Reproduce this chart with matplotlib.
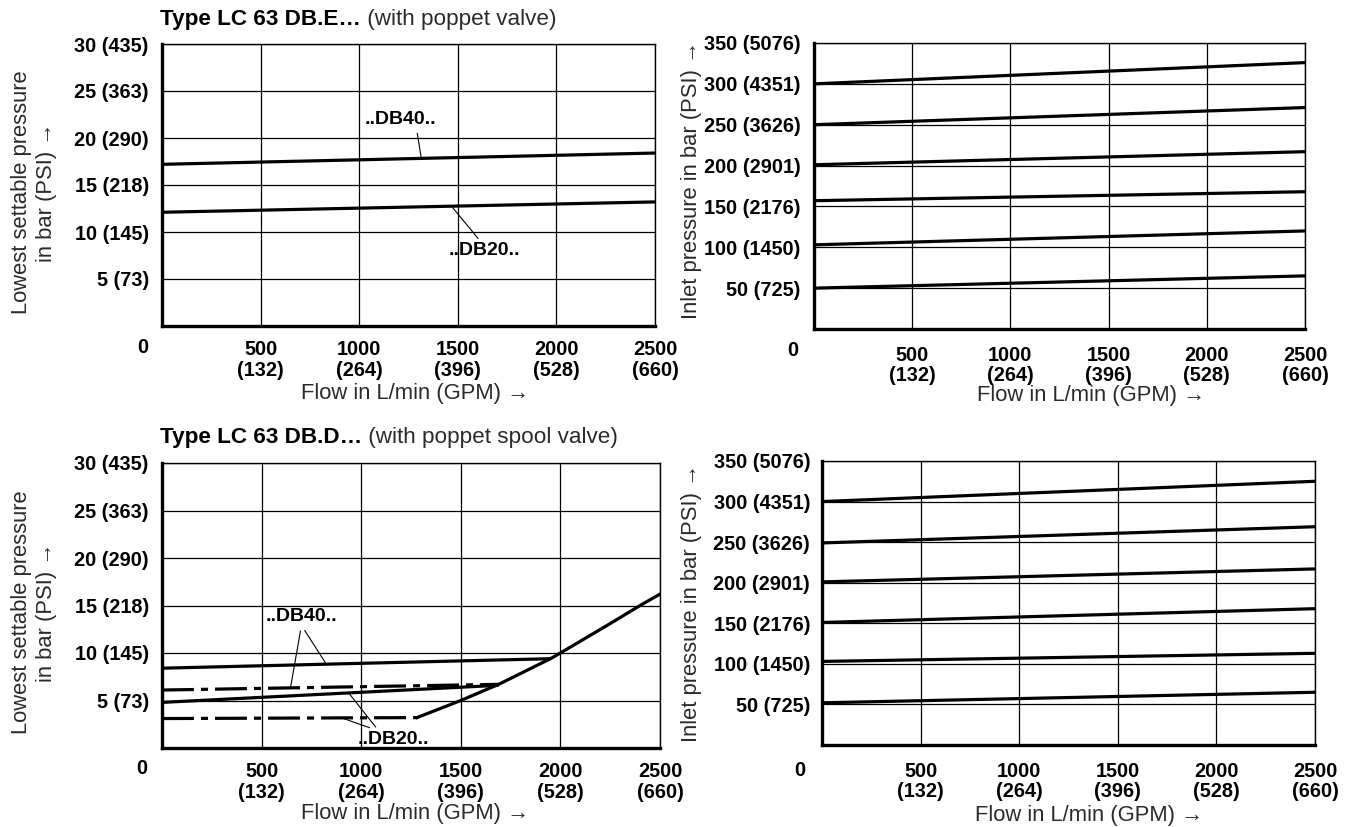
import matplotlib
matplotlib.use("Agg")
import matplotlib.pyplot as plt
import numpy as np
from matplotlib import font_manager as fm

# ---------------- data ----------------
flow_ticks = [500, 1000, 1500, 2000, 2500]
flow_tick_labels = ["500\n(132)", "1000\n(264)", "1500\n(396)", "2000\n(528)", "2500\n(660)"]

low_ticks = [5, 10, 15, 20, 25, 30]
low_tick_labels = ["5 (73)", "10 (145)", "15 (218)", "20 (290)", "25 (363)", "30 (435)"]

inlet_ticks = [50, 100, 150, 200, 250, 300, 350]
inlet_tick_labels = ["50 (725)", "100 (1450)", "150 (2176)", "200 (2901)",
                     "250 (3626)", "300 (4351)", "350 (5076)"]

# Type LC 63 DB.E (poppet valve) - lowest settable pressure
e_flow = [0, 2500]
e_db40 = [17.2, 18.4]
e_db20 = [12.1, 13.2]

# Type LC 63 DB.E - inlet pressure curves
e_inlet_flow = [0, 2500]
e_inlet_300 = [300, 326]
e_inlet_250 = [250, 271]
e_inlet_200 = [201, 217]
e_inlet_150 = [157, 168]
e_inlet_100 = [103, 120]
e_inlet_50 = [50, 65]

# Type LC 63 DB.D (poppet spool valve) - lowest settable pressure
d_db40_solid_flow = [0, 1950]
d_db40_solid = [8.4, 9.4]
d_db40_dash_flow = [0, 1690]
d_db40_dash = [6.1, 6.7]
d_db20_solid_flow = [0, 1690]
d_db20_solid = [4.8, 6.6]
d_db20_dash_flow = [0, 1280]
d_db20_dash = [3.1, 3.2]
d_limit_flow = [1280, 1500, 1690, 1950, 2000, 2250, 2400, 2500]
d_limit = [3.2, 5.0, 6.7, 9.4, 10.0, 13.1, 15.0, 16.2]

# Type LC 63 DB.D - inlet pressure curves
d_inlet_flow = [0, 2500]
d_inlet_300 = [300, 325]
d_inlet_250 = [249, 269]
d_inlet_200 = [201, 217]
d_inlet_150 = [151, 168]
d_inlet_100 = [103, 113]
d_inlet_50 = [52, 65]

# ---------------- fonts ----------------
names = {f.name for f in fm.fontManager.ttflist}
SANS = "Liberation Sans" if "Liberation Sans" in names else "DejaVu Sans"
FAM = [SANS, "DejaVu Sans"]
plt.rcParams["font.family"] = FAM

W, H = 1359, 827
fig = plt.figure(figsize=(W / 100, H / 100), dpi=100)


def add_ax(x0, x1, y0, y1):
    return fig.add_axes([x0 / W, 1 - y1 / H, (x1 - x0) / W, (y1 - y0) / H])


def ftext(x, y, s, **kw):
    return fig.text(x / W, 1 - y / H, s, **kw)


TICK_FS = 14.3
LW = 2.3
DASHDOT = (0, (10, 2.2, 2.2, 2.2))


def style(ax, ylim, yticks, ylabels, ypad, xpad=10):
    ax.set_xlim(0, 2500)
    ax.set_ylim(*ylim)
    ax.set_xticks(flow_ticks)
    ax.set_xticklabels(flow_tick_labels, fontsize=TICK_FS, fontweight="bold",
                       linespacing=1.12)
    ax.set_yticks(yticks)
    ax.set_yticklabels(ylabels, fontsize=TICK_FS, fontweight="bold")
    ax.tick_params(axis="x", length=0, pad=xpad)
    ax.tick_params(axis="y", length=0, pad=ypad)
    ax.grid(True, color="black", lw=0.9)
    ax.set_axisbelow(True)
    for s in ("left", "bottom"):
        ax.spines[s].set_linewidth(2.4)
    for s in ("top", "right"):
        ax.spines[s].set_linewidth(1.0)


LBL_FS = 14

# ---------------- top-left ----------------
ax1 = add_ax(162, 655, 44, 326)
style(ax1, (0, 30), low_ticks, low_tick_labels, 9.5)
ax1.plot(e_flow, e_db40, color="black", lw=LW, solid_capstyle="butt")
ax1.plot(e_flow, e_db20, color="black", lw=LW, solid_capstyle="butt")
ax1.annotate("..DB40..", xy=(1315, np.interp(1315, e_flow, e_db40)), xytext=(1210, 22.0),
             ha="center", va="center", fontsize=LBL_FS, fontweight="bold",
             arrowprops=dict(arrowstyle="-", lw=0.8, color="black",
                             relpos=(0.72, 0.0), shrinkA=2, shrinkB=0))
ax1.annotate("..DB20..", xy=(1468, np.interp(1468, e_flow, e_db20)), xytext=(1637, 8.0),
             ha="center", va="center", fontsize=LBL_FS, fontweight="bold",
             arrowprops=dict(arrowstyle="-", lw=0.8, color="black",
                             relpos=(0.45, 1.0), shrinkA=1, shrinkB=0))

# ---------------- top-right ----------------
ax2 = add_ax(814, 1305, 43, 329)
style(ax2, (0, 350), inlet_ticks, inlet_tick_labels, 9.5, xpad=12)
for ys in (e_inlet_300, e_inlet_250, e_inlet_200, e_inlet_150, e_inlet_100, e_inlet_50):
    ax2.plot(e_inlet_flow, ys, color="black", lw=LW, solid_capstyle="butt")

# ---------------- bottom-left ----------------
ax3 = add_ax(162, 660, 463, 748)
style(ax3, (0, 30), low_ticks, low_tick_labels, 9.5)
ax3.plot(d_db40_solid_flow, d_db40_solid, color="black", lw=LW, solid_capstyle="butt")
ax3.plot(d_db40_dash_flow, d_db40_dash, color="black", lw=LW, linestyle=DASHDOT,
         dash_capstyle="butt")
ax3.plot(d_db20_solid_flow, d_db20_solid, color="black", lw=LW, solid_capstyle="butt")
ax3.plot(d_db20_dash_flow, d_db20_dash, color="black", lw=LW, linestyle=DASHDOT,
         dash_capstyle="butt")
ax3.plot(d_limit_flow, d_limit, color="black", lw=LW, solid_joinstyle="round")

ax3.annotate("..DB40..", xy=(645, np.interp(645, d_db40_dash_flow, d_db40_dash)),
             xytext=(700, 13.8), ha="center", va="center", fontsize=LBL_FS,
             fontweight="bold",
             arrowprops=dict(arrowstyle="-", lw=0.8, color="black",
                             relpos=(0.5, 0.0), shrinkA=2, shrinkB=0))
ax3.annotate("..DB40..", xy=(825, np.interp(825, d_db40_solid_flow, d_db40_solid)),
             xytext=(700, 13.8), ha="center", va="center", fontsize=LBL_FS,
             fontweight="bold", color="none",
             arrowprops=dict(arrowstyle="-", lw=0.8, color="black",
                             relpos=(0.5, 0.0), shrinkA=2, shrinkB=0))
ax3.annotate("..DB20..", xy=(937, np.interp(937, d_db20_solid_flow, d_db20_solid)),
             xytext=(1160, 0.9), ha="center", va="center", fontsize=LBL_FS,
             fontweight="bold",
             arrowprops=dict(arrowstyle="-", lw=0.8, color="black",
                             relpos=(0.3, 1.0), shrinkA=1, shrinkB=0))
ax3.annotate("..DB20..", xy=(902, np.interp(902, d_db20_dash_flow, d_db20_dash)),
             xytext=(1160, 0.9), ha="center", va="center", fontsize=LBL_FS,
             fontweight="bold", color="none",
             arrowprops=dict(arrowstyle="-", lw=0.8, color="black",
                             relpos=(0.3, 1.0), shrinkA=1, shrinkB=0))

# ---------------- bottom-right ----------------
ax4 = add_ax(822, 1315, 461, 745)
style(ax4, (0, 350), inlet_ticks, inlet_tick_labels, 8.5, xpad=12)
for ys in (d_inlet_300, d_inlet_250, d_inlet_200, d_inlet_150, d_inlet_100, d_inlet_50):
    ax4.plot(d_inlet_flow, ys, color="black", lw=LW, solid_capstyle="butt")

# ---------------- corner zeros ----------------
for (x, y) in ((143, 347), (793, 350), (142, 768), (800, 770)):
    ftext(x, y, "0", ha="center", va="center", fontsize=TICK_FS, fontweight="bold")

# ---------------- axis labels ----------------
AX_FS = 15.8
TXT = "#2a2a2a"
for y in (192, 612):
    ftext(34, y, "Lowest settable pressure\nin bar (PSI) \u2192", rotation=90,
          ha="center", va="center", fontsize=AX_FS, linespacing=1.3, color=TXT)
ftext(691, 180, "Inlet pressure in bar (PSI) \u2192", rotation=90,
      ha="center", va="center", fontsize=AX_FS, color=TXT)
ftext(691, 603, "Inlet pressure in bar (PSI) \u2192", rotation=90,
      ha="center", va="center", fontsize=AX_FS, color=TXT)
for (x, y) in ((415, 394), (1091, 395), (415, 814), (1089, 816)):
    ftext(x, y, "Flow in L/min (GPM) \u2192", ha="center", va="center",
          fontsize=AX_FS, color=TXT)

# ---------------- titles ----------------
TITLE_FS = 16.2
t1 = ftext(160, 19, "Type LC 63 DB.E\u2026", ha="left", va="center",
           fontsize=TITLE_FS, fontweight="bold")
fig.text(0, 0, " (with poppet valve)", fontsize=TITLE_FS, color=TXT,
         ha="left", va="bottom").set_position((0, 0))
fig.texts[-1].remove()
ax1.annotate(" (with poppet valve)", xy=(1, 0), xycoords=t1, ha="left", va="bottom",
             fontsize=TITLE_FS, color=TXT, annotation_clip=False)
t2 = ftext(160, 438, "Type LC 63 DB.D\u2026", ha="left", va="center",
           fontsize=TITLE_FS, fontweight="bold")
ax3.annotate(" (with poppet spool valve)", xy=(1, 0), xycoords=t2, ha="left",
             va="bottom", fontsize=TITLE_FS, color=TXT, annotation_clip=False)

fig.savefig("out.png", dpi=100, facecolor="white")
